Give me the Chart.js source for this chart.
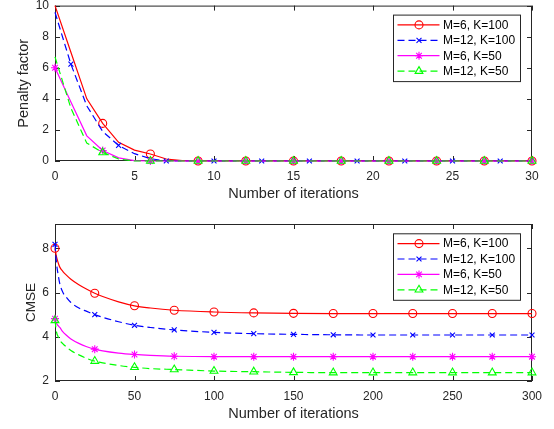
<!DOCTYPE html>
<html>
<head>
<meta charset="utf-8">
<script src="https://cdn.jsdelivr.net/npm/chart.js@4.4.0/dist/chart.umd.min.js"></script>
<style>
  html, body { margin: 0; padding: 0; background: #fff; }
  #wrap { position: relative; width: 554px; height: 429px; }
  canvas { position: absolute; left: 0; }
</style>
</head>
<body>
<div id="wrap">
  <canvas id="penaltyChart" width="554" height="215" style="top:0"></canvas>
  <canvas id="cmseChart" width="554" height="214" style="top:215px"></canvas>
</div>
<script>
// --- data ---
const seriesNames = ['M=6, K=100', 'M=12, K=100', 'M=6, K=50', 'M=12, K=50'];

// top panel: penalty factor vs iteration (0..30)
const iterTop = [0, 1, 2, 3, 4, 5, 6, 7, 8, 9, 10, 11, 12, 13, 14, 15, 16, 17, 18, 19, 20, 21, 22, 23, 24, 25, 26, 27, 28, 29, 30];
const penM6K100  = [10, 7.0, 4.0, 2.42, 1.2, 0.7, 0.45, 0.13, 0.02, 0, 0, 0, 0, 0, 0, 0, 0, 0, 0, 0, 0, 0, 0, 0, 0, 0, 0, 0, 0, 0, 0];
const penM12K100 = [9.57, 6.23, 3.55, 1.9, 1.0, 0.47, 0.15, 0, 0, 0, 0, 0, 0, 0, 0, 0, 0, 0, 0, 0, 0, 0, 0, 0, 0, 0, 0, 0, 0, 0, 0];
const penM6K50   = [6.0, 3.8, 1.62, 0.68, 0.2, 0.02, 0, 0, 0, 0, 0, 0, 0, 0, 0, 0, 0, 0, 0, 0, 0, 0, 0, 0, 0, 0, 0, 0, 0, 0, 0];
const penM12K50  = [6.7, 3.4, 1.15, 0.55, 0.13, 0, 0, 0, 0, 0, 0, 0, 0, 0, 0, 0, 0, 0, 0, 0, 0, 0, 0, 0, 0, 0, 0, 0, 0, 0, 0];

// bottom panel: CMSE vs iteration (0..300), sampled along the curves
const iterBot = [0, 1, 2, 3, 5, 7, 10, 15, 20, 25, 30, 40, 50, 60, 75, 100, 125, 150, 175, 200, 225, 250, 275, 300];
const cmseM6K100  = [8.0, 7.6, 7.35, 7.15, 6.95, 6.8, 6.6, 6.35, 6.15, 5.97, 5.82, 5.58, 5.4, 5.3, 5.2, 5.12, 5.08, 5.06, 5.05, 5.05, 5.05, 5.05, 5.05, 5.05];
const cmseM12K100 = [8.18, 7.3, 6.8, 6.4, 6.0, 5.8, 5.55, 5.3, 5.15, 5.0, 4.88, 4.68, 4.52, 4.42, 4.31, 4.2, 4.14, 4.11, 4.09, 4.08, 4.08, 4.08, 4.08, 4.08];
const cmseM6K50   = [4.82, 4.6, 4.5, 4.42, 4.22, 4.08, 3.9, 3.7, 3.55, 3.44, 3.36, 3.26, 3.2, 3.16, 3.12, 3.1, 3.1, 3.1, 3.1, 3.1, 3.1, 3.1, 3.1, 3.1];
const cmseM12K50  = [4.74, 4.2, 4.0, 3.85, 3.68, 3.55, 3.38, 3.18, 3.02, 2.9, 2.82, 2.7, 2.62, 2.56, 2.52, 2.45, 2.42, 2.39, 2.38, 2.38, 2.38, 2.38, 2.38, 2.38];

// --- styles ---
const axisClr = '#262626';
const fam = '"Liberation Sans", Arial, Helvetica, sans-serif';
const tickFont = { family: fam, size: 12 };

const styles = [
  { color: '#ff0000', dash: [],     point: 'circle',   r: 4 },
  { color: '#0000ff', dash: [7, 4], point: 'crossRot', r: 3.5 },
  { color: '#ff00ff', dash: [],     point: 'star',     r: 4 },
  { color: '#00ff00', dash: [7, 4], point: 'triangle', r: 4.5 }
];

const toXY = (xs, ys) => xs.map((x, i) => ({ x: x, y: ys[i] }));

function makeDataset(i, xs, ys, markerFn) {
  const s = styles[i];
  return {
    label: seriesNames[i],
    data: toXY(xs, ys),
    borderColor: s.color,
    backgroundColor: 'rgba(0,0,0,0)',
    borderWidth: 1.2,
    borderDash: s.dash,
    pointStyle: s.point,
    pointBorderColor: s.color,
    pointBackgroundColor: 'rgba(0,0,0,0)',
    pointBorderWidth: 1.1,
    pointRadius: ctx => markerFn(ctx.raw ? ctx.raw.x : -1, ctx.dataIndex) ? s.r : 0,
    pointHoverRadius: 0,
    order: 3 - i,
    clip: 8
  };
}

// box with inward ticks, MATLAB style
const boxPlugin = {
  id: 'matBox',
  beforeDatasetsDraw(chart) {
    const { ctx, chartArea: a, scales: { x, y } } = chart;
    ctx.save();
    ctx.strokeStyle = axisClr;
    ctx.lineWidth = 1;
    ctx.strokeRect(a.left + 0.5, a.top + 0.5, a.right - a.left - 1, a.bottom - a.top - 1);
    ctx.beginPath();
    x.ticks.forEach(t => {
      const px = Math.round(x.getPixelForValue(t.value)) + 0.5;
      ctx.moveTo(px, a.bottom); ctx.lineTo(px, a.bottom - 5);
      ctx.moveTo(px, a.top); ctx.lineTo(px, a.top + 5);
    });
    y.ticks.forEach(t => {
      const py = Math.round(y.getPixelForValue(t.value)) + 0.5;
      ctx.moveTo(a.left, py); ctx.lineTo(a.left + 5, py);
      ctx.moveTo(a.right, py); ctx.lineTo(a.right - 5, py);
    });
    ctx.stroke();
    ctx.restore();
  }
};

// legend inside the top-right corner
const boxLegend = {
  id: 'matLegend',
  afterDraw(chart, args, opts) {
    const { ctx, chartArea: a } = chart;
    const left = a.right - 139, top = a.top + opts.offsetTop, w = 127, h = 66.5;
    ctx.save();
    ctx.fillStyle = '#fff';
    ctx.fillRect(left, top, w, h);
    ctx.strokeStyle = axisClr;
    ctx.lineWidth = 1;
    ctx.strokeRect(left + 0.5, top + 0.5, w, h);
    chart.data.datasets.forEach((ds, i) => {
      const s = styles[i];
      const yy = top + 10.3 + i * 15.4;
      ctx.strokeStyle = s.color;
      ctx.lineWidth = 1.2;
      ctx.setLineDash(s.dash);
      ctx.beginPath();
      ctx.moveTo(left + 4.5, yy); ctx.lineTo(left + 46.5, yy);
      ctx.stroke();
      ctx.setLineDash([]);
      ctx.fillStyle = 'rgba(0,0,0,0)';
      ctx.lineWidth = 1.1;
      Chart.helpers.drawPoint(ctx, { pointStyle: s.point, radius: s.r, borderWidth: 1.1, rotation: 0 }, left + 26, yy);
      ctx.fillStyle = '#000';
      ctx.font = '12px ' + fam;
      ctx.textBaseline = 'middle';
      ctx.textAlign = 'left';
      ctx.fillText(ds.label, left + 50, yy + 0.5);
    });
    ctx.restore();
  }
};

function makeOptions(cfg) {
  return {
    responsive: false,
    animation: false,
    events: [],
    layout: { padding: { left: 0, right: 22, top: cfg.top, bottom: 0 } },
    plugins: { legend: { display: false }, tooltip: { enabled: false }, matLegend: { offsetTop: cfg.legendTop } },
    scales: {
      x: {
        type: 'linear', min: cfg.xMin, max: cfg.xMax,
        grid: { display: false, drawTicks: false }, border: { display: false },
        ticks: { stepSize: cfg.xStep, color: axisClr, font: tickFont, padding: 8, maxRotation: 0, autoSkip: false },
        title: { display: true, text: 'Number of iterations', color: axisClr, font: { family: fam, size: 14.5 }, padding: { top: 0, bottom: cfg.xTitlePad } },
        afterFit: s => { s.height = cfg.xHeight; s.paddingLeft = 0; s.paddingRight = 0; }
      },
      y: {
        type: 'linear', min: cfg.yMin, max: cfg.yMax,
        grid: { display: false, drawTicks: false }, border: { display: false },
        ticks: { stepSize: 2, color: axisClr, font: tickFont, padding: 6, includeBounds: false },
        afterBuildTicks: s => { s.ticks = s.ticks.filter(t => t.value % 2 === 0); },
        title: { display: true, text: cfg.yTitle, color: axisClr, font: { family: fam, size: cfg.yTitleSize }, padding: { top: cfg.yTitlePad, bottom: 0 } },
        afterFit: s => { s.width = 55; s.paddingTop = 0; s.paddingBottom = 0; }
      }
    }
  };
}

// markers: MATLAB-like marker indices
const topMarkers = [
  (x, i) => i >= 3 && i % 3 === 0,
  (x, i) => i % 3 === 1,
  (x, i) => i % 3 === 0,
  (x, i) => i >= 3 && i % 3 === 0
];
const botMarker = (x) => x % 25 === 0;

const penaltyChart = new Chart(document.getElementById('penaltyChart'), {
  type: 'line',
  data: {
    datasets: [penM6K100, penM12K100, penM6K50, penM12K50].map((ys, i) => makeDataset(i, iterTop, ys, topMarkers[i]))
  },
  options: makeOptions({ top: 5, xMin: 0, xMax: 30, xStep: 5, xHeight: 54, xTitlePad: 12.3, yMin: 0, yMax: 10, yTitle: 'Penalty factor', yTitleSize: 14.5, yTitlePad: 14.8, legendTop: 9 }),
  plugins: [boxPlugin, boxLegend]
});

const cmseChart = new Chart(document.getElementById('cmseChart'), {
  type: 'line',
  data: {
    datasets: [cmseM6K100, cmseM12K100, cmseM6K50, cmseM12K50].map((ys, i) => {
      const ds = makeDataset(i, iterBot, ys, botMarker);
      ds.cubicInterpolationMode = 'monotone';
      return ds;
    })
  },
  options: makeOptions({ top: 9, xMin: 0, xMax: 300, xStep: 50, xHeight: 48, xTitlePad: 6.8, yMin: 2, yMax: 9.1, yTitle: 'CMSE', yTitleSize: 13.5, yTitlePad: 23, legendTop: 9.3 }),
  plugins: [boxPlugin, boxLegend]
});
</script>
</body>
</html>
